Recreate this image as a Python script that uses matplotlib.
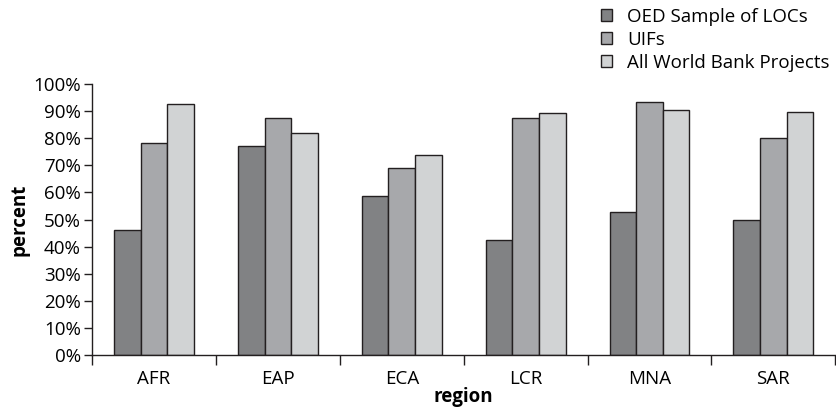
import numpy as np
import matplotlib
matplotlib.use('Agg')
import matplotlib.pyplot as plt

regions = ["AFR", "EAP", "ECA", "LCR", "MNA", "SAR"]
series_names = ["OED Sample of LOCs", "UIFs", "All World Bank Projects"]
oed_sample = [46.3, 77.3, 58.6, 42.6, 52.9, 49.8]
uifs = [78.4, 87.6, 68.9, 87.6, 93.5, 80.0]
all_projects = [92.5, 81.8, 74.0, 89.4, 90.4, 89.8]

colors = ["#818284", "#a7a8ab", "#d1d3d4"]
edge = "#231f20"

plt.rcParams['font.family'] = ['Open Sans', 'DejaVu Sans']

fig = plt.figure(figsize=(8.37, 4.12), dpi=100)
ax = fig.add_axes([0.110, 0.138, 0.888, 0.658])

x = np.arange(len(regions))
w = 0.215
for i, (vals, name) in enumerate(zip([oed_sample, uifs, all_projects], series_names)):
    ax.bar(x + (i - 1) * w, vals, width=w, color=colors[i], edgecolor=edge,
           linewidth=1.0, label=name, zorder=2)

ax.set_xlim(-0.5, len(regions) - 0.5)
ax.set_ylim(0, 100)
ax.set_yticks(np.arange(0, 101, 10))
ax.set_yticklabels(["%d%%" % v for v in range(0, 101, 10)])
ax.set_xticks(x)
ax.set_xticklabels(regions)
ax.set_xticks(np.arange(-0.5, len(regions), 1), minor=True)
ax.tick_params(axis='x', which='major', length=0, pad=11, labelsize=13.5)
ax.tick_params(axis='x', which='minor', length=7, width=1, direction='out', color=edge)
ax.tick_params(axis='y', length=6, width=1, direction='out', color=edge, labelsize=13.5, pad=2)

for s in ['top', 'right']:
    ax.spines[s].set_visible(False)
for s in ['left', 'bottom']:
    ax.spines[s].set_color(edge)
    ax.spines[s].set_linewidth(1.0)

ax.set_ylabel("percent", fontweight='bold', fontsize=13.5, labelpad=3)
ax.set_xlabel("region", fontweight='bold', fontsize=13.5, labelpad=-1)

fig.legend(loc='upper right', bbox_to_anchor=(1.0, 1.0), frameon=False,
           fontsize=13.5, handlelength=0.6, handleheight=0.6, handletextpad=0.8,
           labelspacing=0.28, borderaxespad=0.0)

fig.savefig("out.png", dpi=100)
